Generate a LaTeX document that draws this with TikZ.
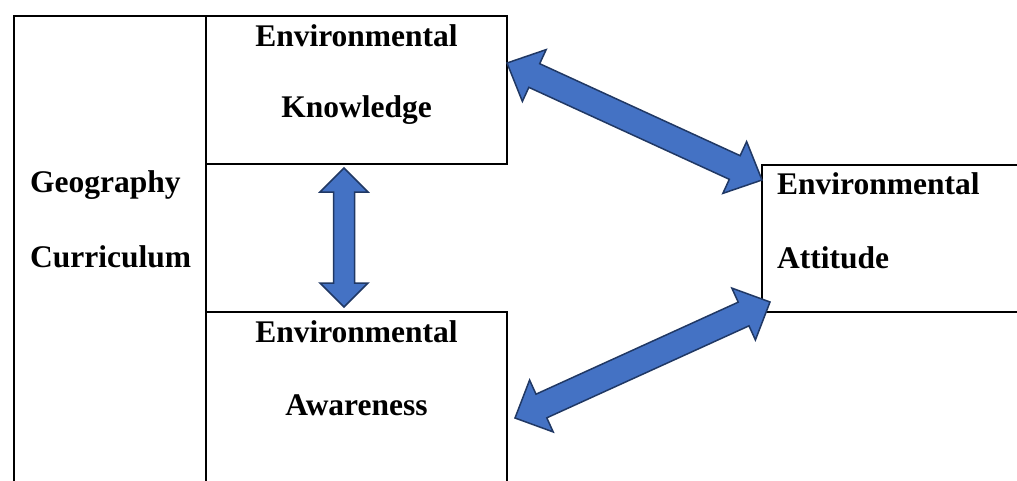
\documentclass[tikz,border=0pt]{standalone}
\usepackage{fontspec}
\setmainfont{Liberation Serif}
\usetikzlibrary{calc}
\definecolor{arrfill}{HTML}{4472C4}
\definecolor{arrline}{HTML}{203864}
\tikzset{
  boxst/.style={draw=black, line width=2pt, inner sep=0pt, outer sep=0pt, anchor=north west},
  lbl/.style={font=\fontsize{31.5}{36}\selectfont\bfseries, inner sep=0pt, text=black},
  blockarr/.style n args={3}{fill=arrfill, draw=arrline, line width=1.5pt, line join=miter,
    to path={let \p1=(\tikztostart), \p2=(\tikztotarget), \n1={atan2(\y2-\y1,\x2-\x1)} in
      (\p1) -- ($(\p1)+(\n1:#1)+(\n1+90:#2)$) -- ($(\p1)+(\n1:#1)+(\n1+90:#3)$)
      -- ($(\p2)+(\n1:-#1)+(\n1+90:#3)$) -- ($(\p2)+(\n1:-#1)+(\n1+90:#2)$)
      -- (\p2) -- ($(\p2)+(\n1:-#1)+(\n1-90:#2)$) -- ($(\p2)+(\n1:-#1)+(\n1-90:#3)$)
      -- ($(\p1)+(\n1:#1)+(\n1-90:#3)$) -- ($(\p1)+(\n1:#1)+(\n1-90:#2)$) -- cycle}}
}
\begin{document}
\begin{tikzpicture}[x=1pt, y=-1pt]
\useasboundingbox[fill=white] (0,0) rectangle (1017,480);
% boxes
\node[boxst, minimum width=192pt, minimum height=486pt] (geo) at (14,16) {};
\node[boxst, minimum width=301pt, minimum height=148pt] (know) at (206,16) {};
\node[boxst, minimum width=301pt, minimum height=192pt] (aware) at (206,312) {};
\node[boxst, minimum width=272pt, minimum height=147pt] (att) at (762,165) {};
% texts
\node[lbl, anchor=base west] (geo1) at (30,192) {Geography};
\node[lbl, anchor=base west] (geo2) at (30,267) {Curriculum};
\node[lbl, anchor=base] (know1) at (356.5,46) {Environmental};
\node[lbl, anchor=base] (know2) at (356.5,117) {Knowledge};
\node[lbl, anchor=base] (aware1) at (356.5,342) {Environmental};
\node[lbl, anchor=base] (aware2) at (356.5,415) {Awareness};
\node[lbl, anchor=base west] (att1) at (777,194) {Environmental};
\node[lbl, anchor=base west] (att2) at (777,268) {Attitude};
% arrow end points
\coordinate (v1) at ($(know.south)+(-12.5,4)$);
\coordinate (v2) at ($(aware.north)+(-12.5,-5)$);
\coordinate (d1a) at ($(know.north east)+(0,47)$);
\coordinate (d1b) at ($(att.north west)+(0,15)$);
\coordinate (d2a) at ($(att.south west)+(8,-10)$);
\coordinate (d2b) at ($(aware.north east)+(8,106)$);
% arrows
\draw[blockarr={24pt}{24pt}{10.5pt}] (v1) to (v2);
\draw[blockarr={30pt}{28.5pt}{13pt}] (d1a) to (d1b);
\draw[blockarr={29pt}{28.5pt}{13pt}] (d2a) to (d2b);
\end{tikzpicture}
\end{document}
